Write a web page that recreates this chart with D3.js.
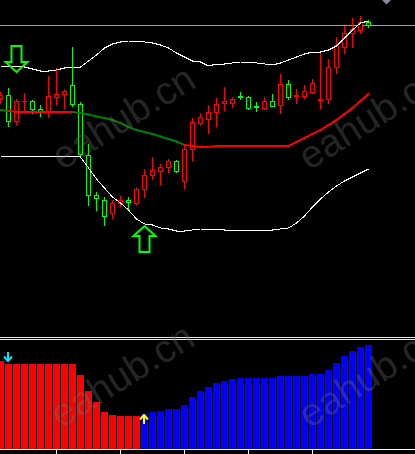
<!DOCTYPE html>
<html><head><meta charset="utf-8">
<script src="https://cdn.jsdelivr.net/npm/d3@7"></script>
<style>html,body{margin:0;padding:0;background:#000;overflow:hidden}svg{display:block}</style>
</head><body>
<script>
// ---- data (price points) ----
const candleOpen  = [202,205,179,199,199,191,188,203,206,215,196,145,105,100,87,97,100,97,111,125,129,133,139,119,151,177,181,188,197,197,204,203,194,192,199,195,216,204,204,208,200,201,233,253,267,270,278];
const candleHigh  = [208,212,201,207,200,195,224,232,211,253,198,156,108,103,100,104,103,113,131,143,136,141,140,155,182,187,195,202,213,203,208,204,198,203,206,226,220,211,215,221,248,241,263,274,282,284,280];
const candleLow   = [198,174,176,190,187,184,183,196,192,194,145,95,90,75,82,94,92,96,103,121,116,128,128,112,140,175,167,174,190,193,201,191,189,191,194,187,201,197,202,207,192,197,227,247,253,267,273];
const candleClose = [205,179,199,199.3,191,189,204,206,209,196,146,105,102,84,97,100,98,111,125,130,133,139,129,151,178,183,188,196,199,201,203,192,193,199,194,216,203,205,209,217,201,233,255,267,271,278,275];

const upperBand = [234,234,234,233,231,229,229,230,232,233,233,239,245,252,256,258,259,259,258,257,255,252,247,243,239,238,234,236,236,237,238,238,237,236,235,237,240,243,246,248,248,250,254,262,270,277,279];
const midBand   = [190,189,188,188,188,188,188,188,188,188,187,185.5,183.5,182,180,177,173,170,168,166,163.5,161,158.5,155,154,153,153,154,154,154,154,154,154,154,154,154,154,158,162,166,170,175,180,186,192,199,206];
const midTrend  = ["dn","dn","up","up","up","up","up","up","up","up","dn","dn","dn","dn","dn","dn","dn","dn","dn","dn","dn","dn","dn","dn","up","up","up","up","up","up","up","up","up","up","up","up","up","up","up","up","up","up","up","up","up","up","up"];
const lowerBand = [144,144,144,144,144,144,144,144,144,144,143,132,121,112,103,97,90,81,76,75,72,71,69,69,70,71,71,71,70,70,70,70,70,70,70,71,72,77,84,93,101,108,114,119,123,127,131];

const histValue = [88,85,85,85,85,85,85,85,85,85,74,58,47,37,34,33,33,33,35,37,38,40,40,44,52,58,62,66,68,70,71,71,71,71,71,73,73,73,73,75,75,79,86,93,98,102,104];
const histSide  = ["sell","sell","sell","sell","sell","sell","sell","sell","sell","sell","sell","sell","sell","sell","sell","sell","sell","sell","buy","buy","buy","buy","buy","buy","buy","buy","buy","buy","buy","buy","buy","buy","buy","buy","buy","buy","buy","buy","buy","buy","buy","buy","buy","buy","buy","buy","buy"];

const bigArrows  = [{i:2, price:228, dir:"down"}, {i:18, price:74, dir:"up"}];
const histArrows = [{i:1, value:88, dir:"down"}, {i:18, value:34, dir:"up"}];
const timeTickIdx = [7,15,23,31,39];
const watermarkText = "eahub.cn";

// ---- layout ----
const W = 415, H = 454;
const svg = d3.select("body").append("svg").attr("width", W).attr("height", H).style("background", "#000");
const x  = d3.scaleLinear().domain([0, 46]).range([0.5, 368.5]);
const y  = d3.scaleLinear().domain([0, 300]).range([300, 0]);
const yH = d3.scaleLinear().domain([0, 109]).range([449, 340]);

svg.append("defs").append("clipPath").attr("id", "mainClip")
  .append("rect").attr("x", 0).attr("y", 0).attr("width", W).attr("height", 337);

const main = svg.append("g").attr("clip-path", "url(#mainClip)");

// price line
const lastY = Math.round(y(candleClose[candleClose.length - 1])) + 0.5;
main.append("line").attr("x1", 0).attr("x2", W).attr("y1", lastY).attr("y2", lastY)
  .attr("stroke", "#9a9aa0").attr("stroke-width", 1);
// chart shift marker
main.append("path").attr("d", "M382,0 L391,0 L386.5,4.5 Z").attr("fill", "#8a8a98");

// candles
candleOpen.forEach((o, i) => {
  const c = candleClose[i], cx = x(i);
  const col = c >= o ? "#ff0000" : "#00ff00";
  const yt = Math.round(y(Math.max(o, c))), yb = Math.round(y(Math.min(o, c)));
  main.append("line").attr("x1", cx).attr("x2", cx)
    .attr("y1", Math.round(y(candleHigh[i]))).attr("y2", Math.round(y(candleLow[i])) + 1)
    .attr("stroke", col).attr("stroke-width", 1).attr("shape-rendering", "crispEdges");
  if (yb - yt < 1) {
    main.append("line").attr("x1", cx - 2.5).attr("x2", cx + 2.5).attr("y1", yt + 0.5).attr("y2", yt + 0.5)
      .attr("stroke", col).attr("shape-rendering", "crispEdges");
  } else {
    main.append("rect").attr("x", cx - 2).attr("y", yt + 0.5).attr("width", 4).attr("height", yb - yt)
      .attr("fill", "#000").attr("stroke", col).attr("stroke-width", 1).attr("shape-rendering", "crispEdges");
  }
});

// bands
const line = d3.line().x((d, i) => x(i)).y(d => y(d));
main.append("path").attr("d", line(upperBand)).attr("fill", "none").attr("stroke", "#ffffff").attr("stroke-width", 1).attr("shape-rendering", "crispEdges");
main.append("path").attr("d", line(lowerBand)).attr("fill", "none").attr("stroke", "#ffffff").attr("stroke-width", 1).attr("shape-rendering", "crispEdges");
for (let i = 1; i < midBand.length; i++) {
  main.append("line").attr("x1", x(i - 1)).attr("x2", x(i)).attr("y1", y(midBand[i - 1])).attr("y2", y(midBand[i]))
    .attr("stroke", midTrend[i] === "dn" ? "#008000" : "#ff0000").attr("stroke-width", 2).attr("stroke-linecap", "square");
}

// big arrows
bigArrows.forEach(a => {
  const tx = x(a.i), ty = y(a.price), s = a.dir === "down" ? -1 : 1;
  const pts = [[tx, ty], [tx + 11, ty + s * 10], [tx + 5, ty + s * 10], [tx + 5, ty + s * 26], [tx - 5, ty + s * 26], [tx - 5, ty + s * 10], [tx - 11, ty + s * 10]];
  main.append("path").attr("d", "M" + pts.map(p => p.join(",")).join("L") + "Z")
    .attr("fill", "none").attr("stroke", "#00ff00").attr("stroke-width", 2).attr("stroke-linejoin", "miter");
});

// separator
svg.append("line").attr("x1", 0).attr("x2", W).attr("y1", 337.5).attr("y2", 337.5).attr("stroke", "#e8e8e8");
svg.append("line").attr("x1", 0).attr("x2", W).attr("y1", 339.5).attr("y2", 339.5).attr("stroke", "#e8e8e8");

// histogram
svg.append("g").selectAll("rect").data(histValue).join("rect")
  .attr("x", (d, i) => x(i) - 3.5).attr("width", 7)
  .attr("y", d => yH(d)).attr("height", d => yH(0) - yH(d))
  .attr("fill", (d, i) => histSide[i] === "sell" ? "#ff0000" : "#0000ff")
  .attr("shape-rendering", "crispEdges");

histArrows.forEach(a => {
  const tx = x(a.i) - 0.5, ty = yH(a.value), s = a.dir === "down" ? -1 : 1;
  const col = a.dir === "down" ? "#00e5ff" : "#ffff00";
  svg.append("path").attr("d", `M${tx},${ty} L${tx},${ty + s * 9} M${tx - 4},${ty + s * 4.5} L${tx},${ty} L${tx + 4},${ty + s * 4.5}`)
    .attr("fill", "none").attr("stroke", col).attr("stroke-width", 2);
});

// bottom axis
svg.append("line").attr("x1", 0).attr("x2", W).attr("y1", 449.5).attr("y2", 449.5).attr("stroke", "#ffffff");
timeTickIdx.forEach(t => {
  svg.append("line").attr("x1", x(t)).attr("x2", x(t)).attr("y1", 450).attr("y2", 454).attr("stroke", "#ffffff");
});

// watermarks
[[62, 171], [309, 171], [61, 429], [309, 429]].forEach(([wx, wy]) => {
  svg.append("text").attr("transform", `translate(${wx},${wy}) rotate(-32)`)
    .attr("font-family", "Liberation Sans, Arial, sans-serif").attr("font-size", 39)
    .attr("fill", "#777777").attr("fill-opacity", 0.33).text(watermarkText);
});
</script>
</body></html>
